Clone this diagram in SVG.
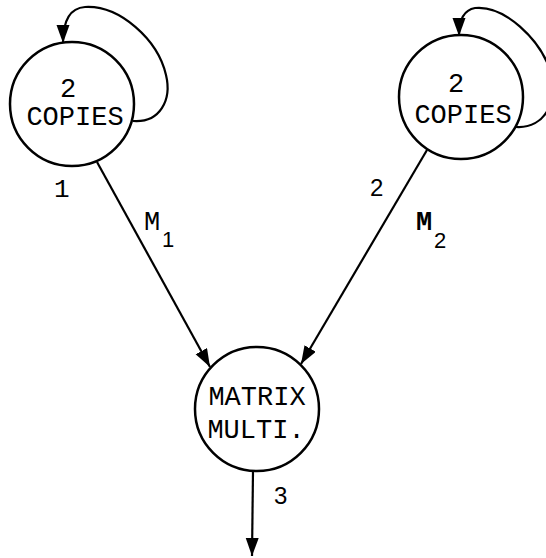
<svg xmlns="http://www.w3.org/2000/svg" width="546" height="558" viewBox="0 0 546 558">
<style>
.node{fill:#fff;stroke:#000;stroke-width:2.5}
.edge{fill:none;stroke:#000;stroke-width:2.2}
.t{font-family:"Liberation Mono","DejaVu Sans Mono",monospace;font-size:27px;fill:#000;text-anchor:middle}
.s{font-family:"Liberation Sans","DejaVu Sans",sans-serif;font-size:24px;fill:#000}
.m{font-family:"Liberation Mono","DejaVu Sans Mono",monospace;font-size:27px;fill:#000}
.sub{font-family:"Liberation Sans","DejaVu Sans",sans-serif;font-size:22px;fill:#000}
</style>
<defs>
<marker id="ah" markerUnits="userSpaceOnUse" markerWidth="22" markerHeight="14" refX="18" refY="6.5" orient="auto">
<path d="M0,0 L18,6.5 L0,13 Z" fill="#000"/>
</marker>
</defs>
<rect width="546" height="558" fill="#fff"/>
<g id="connectors">
<path class="edge" d="M133,121 C160,123 172,100 166,75 C158,40 120,5 85,7 C70,8 63,20 63,43" marker-end="url(#ah)"/>
<path class="edge" d="M516,127 C545,129 560,100 550,70 C540,40 505,5 475,8 C463,10 459,22 459,36" marker-end="url(#ah)"/>
<line class="edge" x1="97" y1="162" x2="210" y2="367" marker-end="url(#ah)"/>
<line class="edge" x1="427" y1="150" x2="301" y2="364" marker-end="url(#ah)"/>
<line class="edge" x1="253" y1="471" x2="252" y2="556" marker-end="url(#ah)"/>
<text class="m" x="54" y="197" style="font-size:26px">1</text>
<text class="m" x="144" y="230">M</text><text class="sub" x="162" y="247">1</text>
<text class="s" x="370" y="196">2</text>
<text class="m" x="416" y="230" font-weight="bold">M</text><text class="sub" x="434" y="248">2</text>
<text class="s" x="274" y="504">3</text>
</g>
<g id="copies1">
<circle class="node" cx="72" cy="104" r="62"/>
<text class="t" x="68" y="97">2</text>
<text class="t" x="75" y="125">COPIES</text>
</g>
<g id="copies2">
<circle class="node" cx="461" cy="97" r="62"/>
<text class="t" x="456" y="92">2</text>
<text class="t" x="463" y="123">COPIES</text>
</g>
<g id="matrix">
<circle class="node" cx="257" cy="409" r="62"/>
<text class="t" x="257" y="405">MATRIX</text>
<text class="t" x="256" y="438">MULTI.</text>
</g>
</svg>
